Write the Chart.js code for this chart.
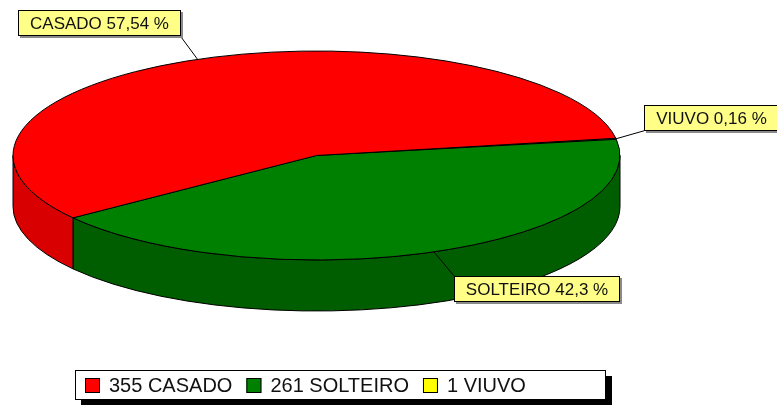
<!DOCTYPE html>
<html>
<head>
<meta charset="utf-8">
<script src="https://cdn.jsdelivr.net/npm/chart.js@4.4.1/dist/chart.umd.min.js"></script>
<style>
  html, body { margin: 0; padding: 0; background: #ffffff; }
  #wrap { width: 777px; height: 405px; }
</style>
</head>
<body>
<div id="wrap"><canvas id="c" width="777" height="405"></canvas></div>
<script>
// ---- data ----
const categories = ['CASADO', 'SOLTEIRO', 'VIUVO'];
const counts = [355, 261, 1];
const topColors = ['#FF0000', '#008000', '#FFFF00'];
const sideColors = ['#D80000', '#005E00', '#C8C800'];

const total = counts.reduce((a, b) => a + b, 0);
function pctText(v) {
  let s = (v / total * 100).toFixed(2);
  s = s.replace(/0+$/, '').replace(/\.$/, '');
  return s.replace('.', ',');
}

// TeeChart draws slices counter-clockwise; Chart.js draws clockwise, so feed reversed order
const n = categories.length;
const chartLabels = categories.slice().reverse();
const chartValues = counts.slice().reverse();
const chartColors = topColors.slice().reverse();

// layout/style settings (not data)
const DEPTH = 51;
const FONT = '"Liberation Sans", Arial, sans-serif';
const markOffsets = [[-17, -23], [20, 24], [28, -8]]; // leader line vector per mark

function geom(chart) {
  const ca = chart.chartArea;
  const cx = (ca.left + ca.right) / 2;
  const rx = (ca.right - ca.left) / 2;
  const ry = (ca.bottom - ca.top - DEPTH) / 2;
  const cy = ca.top + ry;
  return { cx, cy, rx, ry };
}

const pie3d = {
  id: 'pie3d',
  beforeDatasetsDraw(chart) {
    const ctx = chart.ctx;
    const { cx, cy, rx, ry } = geom(chart);
    const arcs = chart.getDatasetMeta(0).data;
    ctx.save();
    ctx.lineWidth = 1;
    ctx.strokeStyle = '#000000';
    ctx.lineJoin = 'round';
    // front walls
    arcs.forEach((arc, j) => {
      const i = n - 1 - j;
      const s = arc.startAngle, e = arc.endAngle;
      for (let k = -2; k <= 2; k++) {
        const fa = 2 * Math.PI * k, fb = fa + Math.PI;
        const a = Math.max(s, fa), b = Math.min(e, fb);
        if (b - a > 1e-4) {
          ctx.beginPath();
          ctx.ellipse(cx, cy, rx, ry, 0, a, b, false);
          ctx.ellipse(cx, cy + DEPTH, rx, ry, 0, b, a, true);
          ctx.closePath();
          ctx.fillStyle = sideColors[i];
          ctx.fill();
          ctx.stroke();
        }
      }
    });
    // top faces
    arcs.forEach((arc, j) => {
      const i = n - 1 - j;
      ctx.beginPath();
      ctx.moveTo(cx, cy);
      ctx.ellipse(cx, cy, rx, ry, 0, arc.startAngle, arc.endAngle, false);
      ctx.closePath();
      ctx.fillStyle = topColors[i];
      ctx.fill();
      ctx.stroke();
    });
    ctx.restore();
    return false;
  },
  afterDraw(chart) {
    const ctx = chart.ctx;
    const { cx, cy, rx, ry } = geom(chart);
    const arcs = chart.getDatasetMeta(0).data;
    ctx.save();
    // marks with leader lines
    ctx.font = '17px ' + FONT;
    ctx.textBaseline = 'middle';
    arcs.forEach((arc, j) => {
      const i = n - 1 - j;
      const mid = (arc.startAngle + arc.endAngle) / 2;
      const c = Math.cos(mid), s = Math.sin(mid);
      const ax = cx + rx * c, ay = cy + ry * s;
      const ex = ax + markOffsets[i][0], ey = ay + markOffsets[i][1];
      ctx.strokeStyle = '#000';
      ctx.lineWidth = 1;
      ctx.beginPath();
      ctx.moveTo(ax, ay);
      ctx.lineTo(ex, ey);
      ctx.stroke();
      const txt = categories[i] + ' ' + pctText(counts[i]) + ' %';
      const tw = ctx.measureText(txt).width;
      const bw = Math.round(tw + 24), bh = 26;
      const bx = Math.round(c < 0 ? ex - bw : ex);
      const by = Math.round(s < 0 ? ey - bh : ey);
      ctx.fillStyle = '#8a8a8a';
      ctx.fillRect(bx + 2, by + 2, bw, bh);
      ctx.fillStyle = '#FFFF88';
      ctx.fillRect(bx, by, bw, bh);
      ctx.strokeStyle = '#000';
      ctx.strokeRect(bx + 0.5, by + 0.5, bw - 1, bh - 1);
      ctx.fillStyle = '#111';
      ctx.textAlign = 'center';
      ctx.fillText(txt, bx + bw / 2, by + bh / 2 + 1);
    });
    // legend box
    const lx = 75, ly = 370, lw = 531, lh = 30;
    ctx.fillStyle = '#000';
    ctx.fillRect(lx + 6, ly + 6, lw, lh);
    ctx.fillStyle = '#fff';
    ctx.fillRect(lx, ly, lw, lh);
    ctx.strokeStyle = '#000';
    ctx.strokeRect(lx + 0.5, ly + 0.5, lw - 1, lh - 1);
    ctx.font = '20px ' + FONT;
    ctx.textAlign = 'left';
    let x = lx + 10;
    categories.forEach((cat, i) => {
      ctx.fillStyle = topColors[i];
      ctx.fillRect(x, ly + 8, 15, 15);
      ctx.strokeStyle = '#000';
      ctx.strokeRect(x + 0.5, ly + 8.5, 14, 14);
      const t = counts[i] + ' ' + cat;
      ctx.fillStyle = '#111';
      ctx.fillText(t, x + 24, ly + lh / 2 + 1);
      x += 24 + ctx.measureText(t).width + 14;
    });
    ctx.restore();
  }
};

new Chart(document.getElementById('c'), {
  type: 'pie',
  data: {
    labels: chartLabels,
    datasets: [{ data: chartValues, backgroundColor: chartColors, borderWidth: 0 }]
  },
  options: {
    responsive: false,
    animation: false,
    rotation: 80.5,
    layout: { padding: { left: 13, right: 157, top: 51, bottom: 94 } },
    plugins: { legend: { display: false }, tooltip: { enabled: false } }
  },
  plugins: [pie3d]
});
</script>
</body>
</html>
